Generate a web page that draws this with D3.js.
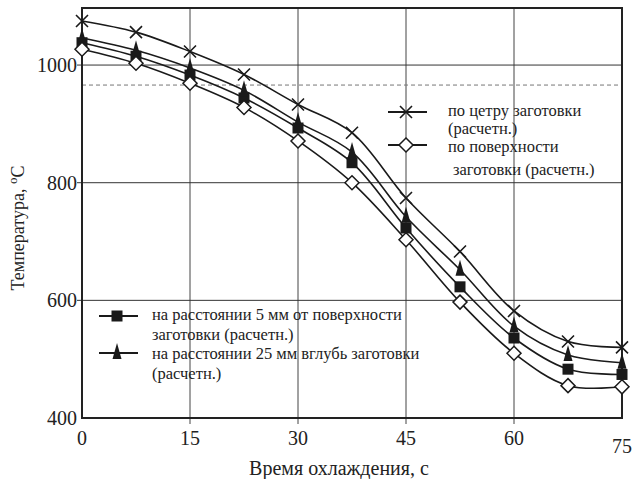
<!DOCTYPE html>
<html>
<head>
<meta charset="utf-8">
<script src="https://cdn.jsdelivr.net/npm/d3@7"></script>
<style>
  body { margin: 0; background: #fff; }
</style>
</head>
<body>
<script>
// time points, s
const times = [0, 7.5, 15, 22.5, 30, 37.5, 45, 52.5, 60, 67.5, 75];
// temperature series, °C
const centre  = [1075, 1056, 1023, 984, 933, 885, 774, 683, 582, 530, 520];
const deep25  = [1046, 1025, 995, 957, 903, 852, 742, 652, 556, 507, 494];
const near5   = [1038, 1015, 983, 944, 893, 834, 723, 623, 536, 483, 474];
const surface = [1027, 1003, 969, 928, 871, 800, 703, 597, 510, 455, 453];
const dashedLevel = 966;
const xTicks = [0, 15, 30, 45, 60, 75];
const yTicks = [400, 600, 800, 1000];

const W = 637, H = 479,
      margin = {top: 8, right: 15, bottom: 61, left: 82},
      plotW = W - margin.left - margin.right,
      plotH = H - margin.top - margin.bottom;

const x = d3.scaleLinear().domain([0, 75]).range([0, plotW]),
      y = d3.scaleLinear().domain([400, 1097]).range([plotH, 0]);

const svg = d3.select("body").append("svg")
    .attr("width", W).attr("height", H)
    .attr("font-family", "'Liberation Serif', 'DejaVu Serif', serif")
    .attr("fill", "#222");
const g = svg.append("g")
    .attr("transform", "translate(" + margin.left + "," + margin.top + ")");

// grid
g.selectAll(".vg").data(xTicks.slice(1, -1)).enter().append("line")
    .attr("x1", d => x(d)).attr("x2", d => x(d))
    .attr("y1", 0).attr("y2", plotH + 6)
    .attr("stroke", "#444").attr("stroke-width", 1);
g.selectAll(".hg").data(yTicks.slice(1)).enter().append("line")
    .attr("x1", -5).attr("x2", plotW)
    .attr("y1", d => y(d)).attr("y2", d => y(d))
    .attr("stroke", "#333").attr("stroke-width", 1);
g.append("line")
    .attr("x1", 0).attr("x2", plotW)
    .attr("y1", y(dashedLevel)).attr("y2", y(dashedLevel))
    .attr("stroke", "#777").attr("stroke-width", 1)
    .attr("stroke-dasharray", "4,3");

// frame
g.append("rect")
    .attr("width", plotW).attr("height", plotH)
    .attr("fill", "none").attr("stroke", "#222").attr("stroke-width", 2);

// tick labels
g.selectAll(".xt").data(xTicks).enter().append("text")
    .attr("x", d => x(d))
    .attr("y", d => d === 75 ? plotH + 35 : plotH + 27)
    .attr("text-anchor", "middle")
    .attr("font-size", 20)
    .text(d => d);
g.selectAll(".yt").data(yTicks).enter().append("text")
    .attr("x", -5).attr("y", d => y(d) + 7)
    .attr("text-anchor", "end")
    .attr("font-size", 20)
    .text(d => d);

// axis titles
g.append("text")
    .attr("x", 257).attr("y", plotH + 57)
    .attr("text-anchor", "middle")
    .attr("font-size", 20)
    .text("Время охлаждения, с");
const yl = svg.append("text")
    .attr("transform", "translate(24,228) rotate(-90)")
    .attr("text-anchor", "middle")
    .attr("font-size", 18);
yl.append("tspan").text("Температура, ");
yl.append("tspan").attr("dy", -7).attr("font-size", 13).text("o");
yl.append("tspan").attr("dy", 7).text("C");

// lines
const line = d3.line()
    .x((d, i) => x(times[i]))
    .y(d => y(d))
    .curve(d3.curveCatmullRom.alpha(0.5));
[centre, deep25, near5, surface].forEach(s => {
  g.append("path").datum(s)
      .attr("d", line)
      .attr("fill", "none").attr("stroke", "#1a1a1a").attr("stroke-width", 1.6);
});

// markers
function cross(sel) {
  sel.append("path").attr("d", "M-6,-6L6,6M-6,6L6,-6")
      .attr("stroke", "#1a1a1a").attr("stroke-width", 1.6);
}
function tri(sel) {
  sel.append("path").attr("d", "M0,-10L4.5,6L-4.5,6Z").attr("fill", "#1a1a1a");
}
function square(sel) {
  sel.append("rect").attr("x", -5.5).attr("y", -5.5).attr("width", 11).attr("height", 11)
      .attr("fill", "#1a1a1a");
}
function diamond(sel) {
  sel.append("path").attr("d", "M0,-7L7,0L0,7L-7,0Z")
      .attr("fill", "#fff").attr("stroke", "#1a1a1a").attr("stroke-width", 1.5);
}
function marks(data, fn) {
  data.forEach((v, i) => {
    fn(g.append("g").attr("transform", "translate(" + x(times[i]) + "," + y(v) + ")"));
  });
}
marks(near5, square);
marks(deep25, tri);
marks(surface, diamond);
marks(centre, cross);

// legends
function legendItem(lx, ly, fn, lines, tx, dyList, dxList) {
  svg.append("line").attr("x1", lx - 18).attr("x2", lx + 21)
      .attr("y1", ly).attr("y2", ly)
      .attr("stroke", "#1a1a1a").attr("stroke-width", 2);
  fn(svg.append("g").attr("transform", "translate(" + lx + "," + ly + ")"));
  lines.forEach((t, i) => {
    svg.append("text")
        .attr("x", tx + (dxList ? dxList[i] : 0)).attr("y", ly + dyList[i])
        .attr("font-size", 16.5)
        .text(t);
  });
}
legendItem(406, 112, cross, ["по цетру заготовки", "(расчетн.)"], 448, [4, 22]);
legendItem(406, 145, diamond, ["по поверхности", "заготовки (расчетн.)"], 448, [7, 30], [0, 5]);
legendItem(117, 316, square, ["на расстоянии 5 мм от поверхности", "заготовки (расчетн.)"], 152, [4, 24]);
legendItem(117, 353, tri, ["на расстоянии 25 мм вглубь заготовки", "(расчетн.)"], 152, [6, 26]);
</script>
</body>
</html>
